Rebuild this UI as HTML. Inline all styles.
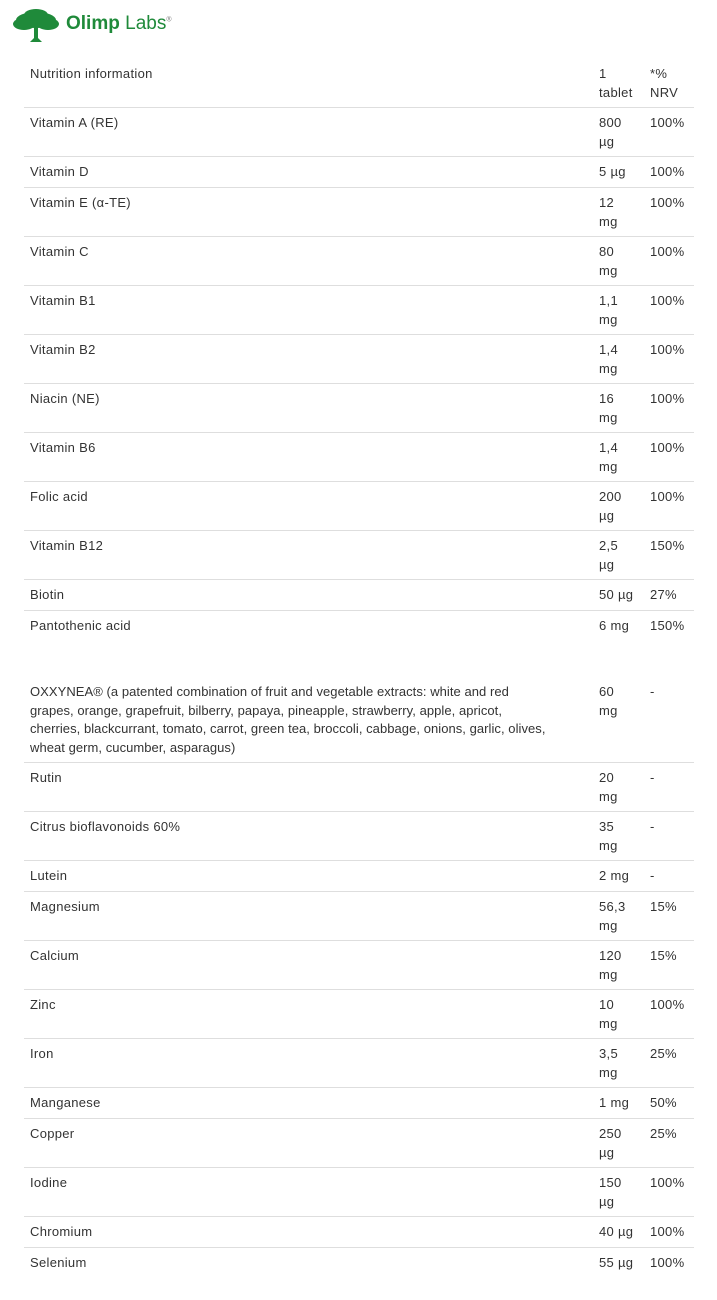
<!DOCTYPE html>
<html><head><meta charset="utf-8"><style>
body{margin:0;width:717px;height:1300px;background:#fff;position:relative;font-family:"Liberation Sans",sans-serif;font-size:13px;color:#333;overflow:hidden}
.t{position:absolute;line-height:18.5px;white-space:nowrap;letter-spacing:0.3px}
.l{position:absolute;left:24px;width:670px;height:1px;background:#dedede}
.logo{position:absolute;left:66px;top:13px;font-size:19px;font-weight:bold;color:#1f8a3a}
.logo span{font-weight:normal}
</style></head><body>
<svg style="position:absolute;left:12px;top:8px" width="48" height="36" viewBox="0 0 48 36">
<g fill="#1f8a3a"><ellipse cx="24" cy="12" rx="20" ry="8"/><ellipse cx="12" cy="16" rx="11" ry="6"/><ellipse cx="36" cy="16" rx="11" ry="6"/><ellipse cx="24" cy="7" rx="12" ry="6"/>
<path d="M22 16 L26 16 L26 30 L30 34 L18 34 L22 30Z"/></g></svg>
<div class="logo">Olimp <span>Labs</span><sup style="font-size:7px;font-weight:normal;color:#777">®</sup></div>
<div class="t" style="left:30px;top:65px">Nutrition information</div>
<div class="t" style="left:599px;top:65px">1<br>tablet</div>
<div class="t" style="left:650px;top:65px">*%<br>NRV</div>
<div class="l" style="top:107px"></div>
<div id="rows"></div>
<div class="t" style="left:30px;top:683px;letter-spacing:0.05px">OXXYNEA® (a patented combination of fruit and vegetable extracts: white and red<br>grapes, orange, grapefruit, bilberry, papaya, pineapple, strawberry, apple, apricot,<br>cherries, blackcurrant, tomato, carrot, green tea, broccoli, cabbage, onions, garlic, olives,<br>wheat germ, cucumber, asparagus)</div>
<div class="t" style="left:599px;top:683px">60<br>mg</div>
<div class="t" style="left:650px;top:683px">-</div>
<div class="l" style="top:762px"></div>
<script>
var r=[["Vitamin A (RE)","800<br>µg","100%",107,156],["Vitamin D","5 µg","100%",156,187],["Vitamin E (α-TE)","12<br>mg","100%",187,236],["Vitamin C","80<br>mg","100%",236,285],["Vitamin B1","1,1<br>mg","100%",285,334],["Vitamin B2","1,4<br>mg","100%",334,383],["Niacin (NE)","16<br>mg","100%",383,432],["Vitamin B6","1,4<br>mg","100%",432,481],["Folic acid","200<br>µg","100%",481,530],["Vitamin B12","2,5<br>µg","150%",530,579],["Biotin","50 µg","27%",579,610],["Pantothenic acid","6 mg","150%",610,0],
["Rutin","20<br>mg","-",762,811],["Citrus bioflavonoids 60%","35<br>mg","-",811,860],["Lutein","2 mg","-",860,891],["Magnesium","56,3<br>mg","15%",891,940],["Calcium","120<br>mg","15%",940,989],["Zinc","10<br>mg","100%",989,1038],["Iron","3,5<br>mg","25%",1038,1087],["Manganese","1 mg","50%",1087,1118],["Copper","250<br>µg","25%",1118,1167],["Iodine","150<br>µg","100%",1167,1216],["Chromium","40 µg","100%",1216,1247],["Selenium","55 µg","100%",1247,0]];
var h="";r.forEach(function(a){var y=a[3]+7;h+='<div class="t" style="left:30px;top:'+y+'px">'+a[0]+'</div><div class="t" style="left:599px;top:'+y+'px">'+a[1]+'</div><div class="t" style="left:650px;top:'+y+'px">'+a[2]+'</div>';if(a[4])h+='<div class="l" style="top:'+a[4]+'px"></div>';});
document.getElementById("rows").innerHTML=h;
</script>
</body></html>
